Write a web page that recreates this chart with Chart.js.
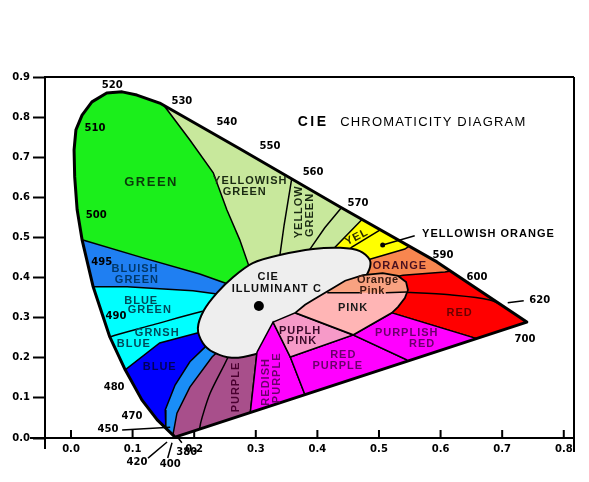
<!DOCTYPE html>
<html>
<head>
<meta charset="utf-8">
<script src="https://cdn.jsdelivr.net/npm/chart.js"></script>
<style>
  html, body { margin: 0; background: #fff; }
  canvas { display: block; }
</style>
</head>
<body>
<canvas id="cie" width="589" height="482"></canvas>
<script>
// axis ticks
const xTicks = [0, 0.1, 0.2, 0.3, 0.4, 0.5, 0.6, 0.7, 0.8];
const yTicks = [0, 0.1, 0.2, 0.3, 0.4, 0.5, 0.6, 0.7, 0.8, 0.9];

// spectral locus (380nm -> 520nm -> 700nm)
const locus = [
  [0.169, 0.002], [0.140, 0.045], [0.115, 0.095], [0.088, 0.170], [0.063, 0.252],
  [0.036, 0.377], [0.018, 0.494], [0.010, 0.569], [0.006, 0.651], [0.005, 0.718],
  [0.008, 0.768], [0.018, 0.805], [0.034, 0.838], [0.058, 0.860], [0.083, 0.863],
  [0.107, 0.855], [0.144, 0.835], [0.274, 0.721], [0.437, 0.576], [0.594, 0.439],
  [0.740, 0.289]
];

// colour regions (corners that fall outside the locus get clipped away)
const yellowishGreen = [[0.128, 0.993], [0.148, 0.835], [0.193, 0.743], [0.231, 0.661], [0.253, 0.569], [0.274, 0.494], [0.294, 0.406], [0.420, 0.344], [1.021, 0.344], [1.021, 0.993]];
const lineA = [[0.364, 0.718], [0.359, 0.653], [0.346, 0.531], [0.339, 0.454], [0.336, 0.406]];
const lineB = [[0.469, 0.631], [0.440, 0.576], [0.412, 0.524], [0.388, 0.471], [0.372, 0.431]];
const yellow = [[0.518, 0.618], [0.472, 0.544], [0.429, 0.476], [0.412, 0.431], [1.021, 0.431], [1.021, 0.618]];
const lineD = [[0.531, 0.549], [0.502, 0.519], [0.456, 0.476], [0.437, 0.449]];
const orange = [[0.599, 0.531], [0.542, 0.471], [0.481, 0.444], [0.445, 0.424], [0.445, 0.344], [1.021, 0.344], [1.021, 0.531]];
const red = [[1.021, 0.494], [0.648, 0.424], [0.607, 0.414], [0.539, 0.406], [0.502, 0.394], [0.485, 0.344], [0.521, 0.312], [0.656, 0.249], [1.021, 0.045]];
const redLine = [[0.534, 0.364], [0.615, 0.357], [0.680, 0.344], [0.716, 0.317], [0.745, 0.289]];
const bluishGreen = [[-0.018, 0.506], [0.018, 0.494], [0.117, 0.449], [0.209, 0.409], [0.258, 0.382], [0.282, 0.357], [0.274, -0.105], [-0.018, -0.105]];
const blueGreen = [[-0.018, 0.382], [0.036, 0.377], [0.091, 0.377], [0.144, 0.372], [0.198, 0.367], [0.237, 0.359], [0.266, 0.344], [0.274, -0.105], [-0.018, -0.105]];
const line490 = [[0.031, 0.232], [0.063, 0.252], [0.133, 0.282], [0.209, 0.314], [0.234, 0.319]];
const blue = [[0.234, 0.269], [0.205, 0.262], [0.144, 0.237], [0.088, 0.170], [0.047, 0.145], [-0.018, -0.105], [0.274, -0.105], [0.274, 0.269]];
const lightBlue = [[0.234, 0.244], [0.218, 0.227], [0.193, 0.190], [0.169, 0.132], [0.153, 0.070], [0.154, 0.025], [0.161, -0.017], [0.274, -0.080], [0.274, 0.244]];
const purple = [[0.250, 0.232], [0.229, 0.202], [0.193, 0.127], [0.172, 0.062], [0.166, 0.012], [0.169, -0.030], [0.299, -0.055], [0.291, 0.062], [0.302, 0.214], [0.291, 0.244]];
const purpleLine = [[0.261, 0.232], [0.255, 0.202], [0.226, 0.112], [0.213, 0.052], [0.209, 0.025], [0.206, -0.030]];
const whiteArea = [[0.388, 0.274], [0.437, 0.332], [0.469, 0.382], [0.484, 0.419], [0.485, 0.444], [0.469, 0.466], [0.437, 0.474], [0.393, 0.471], [0.339, 0.456], [0.295, 0.436], [0.263, 0.401], [0.237, 0.362], [0.216, 0.319], [0.206, 0.274], [0.214, 0.237], [0.231, 0.214], [0.261, 0.200], [0.299, 0.209], [0.339, 0.234]];
const redishPurple = [[0.302, 0.214], [0.328, 0.289], [0.356, 0.202], [0.380, 0.107], [0.388, 0.020], [0.282, 0.020], [0.291, 0.062]];
const redPurple = [[0.458, 0.257], [0.545, 0.195], [0.567, 0.045], [0.372, 0.045], [0.380, 0.107], [0.356, 0.202]];
const purplishRed = [[0.521, 0.312], [0.656, 0.249], [1.021, 0.045], [0.567, 0.045], [0.545, 0.195], [0.458, 0.257]];
const puplhPink = [[0.328, 0.289], [0.364, 0.312], [0.458, 0.257], [0.356, 0.202]];
const pink = [[0.364, 0.312], [0.380, 0.332], [0.396, 0.347], [0.420, 0.369], [0.445, 0.392], [0.474, 0.406], [0.506, 0.411], [0.531, 0.404], [0.544, 0.389], [0.547, 0.369], [0.542, 0.349], [0.531, 0.327], [0.521, 0.312], [0.458, 0.257]];
const orangePink = [[0.416, 0.362], [0.420, 0.369], [0.445, 0.392], [0.474, 0.406], [0.506, 0.411], [0.531, 0.404], [0.544, 0.389], [0.547, 0.369], [0.545, 0.362]];
const pinkSplitL = [[0.416, 0.362], [0.469, 0.362]];
const pinkSplitR = [[0.511, 0.362], [0.545, 0.364]];
const illuminantC = [[0.305, 0.329]];

// wavelength marks
const marks = [
  ['520', 0.067, 0.878], ['530', 0.180, 0.840], ['540', 0.253, 0.788], ['550', 0.323, 0.726],
  ['560', 0.393, 0.661], ['570', 0.466, 0.586], ['590', 0.604, 0.456], ['600', 0.659, 0.401],
  ['620', 0.761, 0.344], ['700', 0.737, 0.247], ['510', 0.039, 0.773], ['500', 0.041, 0.554],
  ['495', 0.050, 0.439], ['490', 0.073, 0.302], ['480', 0.070, 0.127], ['470', 0.099, 0.055],
  ['450', 0.060, 0.022], ['420', 0.107, -0.062], ['400', 0.161, -0.067], ['380', 0.188, -0.037]
];
const leaders = [
  [[0.709, 0.337], [0.735, 0.342]],
  [[0.083, 0.020], [0.161, 0.027]],
  [[0.125, -0.050], [0.156, -0.010]],
  [[0.157, -0.050], [0.164, -0.012]],
  [[0.175, -0.002], [0.180, -0.012]],
  [[0.506, 0.481], [0.558, 0.504]]
];

// region names: text, x, y, colour, rotation, style
const names = [
  ['GREEN', 0.130, 0.638, '#0b3a0b', 0, 'big'],
  ['YELLOWISH', 0.291, 0.641, '#1a2a12', 0, 'name'],
  ['GREEN', 0.282, 0.613, '#1a2a12', 0, 'name'],
  ['YELLOW', 0.370, 0.564, '#1a2a12', -90, 'name'],
  ['GREEN', 0.388, 0.556, '#1a2a12', -90, 'name'],
  ['YEL', 0.464, 0.501, '#2a2a00', -27, 'name'],
  ['ORANGE', 0.534, 0.429, '#4a1020', 0, 'name'],
  ['Orange', 0.498, 0.394, '#3a1a10', 0, 'mixed'],
  ['Pink', 0.489, 0.366, '#3a1a10', 0, 'mixed'],
  ['PINK', 0.458, 0.324, '#1a1a1a', 0, 'name'],
  ['RED', 0.631, 0.312, '#6a0000', 0, 'name'],
  ['PURPLISH', 0.545, 0.262, '#6a006a', 0, 'name'],
  ['RED', 0.570, 0.234, '#6a006a', 0, 'name'],
  ['PUPLH', 0.372, 0.267, '#3a0a2a', 0, 'name'],
  ['PINK', 0.375, 0.242, '#3a0a2a', 0, 'name'],
  ['RED', 0.442, 0.207, '#6a006a', 0, 'name'],
  ['PURPLE', 0.433, 0.180, '#6a006a', 0, 'name'],
  ['REDISH', 0.317, 0.140, '#6a006a', -90, 'name'],
  ['PURPLE', 0.334, 0.150, '#6a006a', -90, 'name'],
  ['PURPLE', 0.268, 0.127, '#4a0030', -90, 'name'],
  ['BLUE', 0.144, 0.177, '#00005a', 0, 'name'],
  ['GRNSH', 0.140, 0.262, '#004a5a', 0, 'name'],
  ['BLUE', 0.102, 0.234, '#004a5a', 0, 'name'],
  ['BLUE', 0.114, 0.342, '#004a5a', 0, 'name'],
  ['GREEN', 0.128, 0.319, '#004a5a', 0, 'name'],
  ['BLUISH', 0.104, 0.421, '#00386a', 0, 'name'],
  ['GREEN', 0.107, 0.394, '#00386a', 0, 'name'],
  ['CIE', 0.320, 0.401, '#111', 0, 'name'],
  ['ILLUMINANT C', 0.334, 0.372, '#111', 0, 'name']
];

const styles = {
  big: ['bold 13px "Liberation Sans", Arial, sans-serif', '1.5px'],
  name: ['bold 11px "Liberation Sans", Arial, sans-serif', '1px'],
  mixed: ['bold 11px "Liberation Sans", Arial, sans-serif', '0.5px'],
  mark: ['bold 10px "DejaVu Sans", sans-serif', '0px']
};

const toXY = arr => arr.map(([x, y]) => ({x, y}));

function area(points, color, extra) {
  return Object.assign({
    data: toXY(points.concat([points[0]])),
    showLine: true, fill: 'shape', tension: 0,
    backgroundColor: color, borderColor: '#000', borderWidth: 1.5,
    pointRadius: 0, pointHoverRadius: 0
  }, extra || {});
}

function edge(points, extra) {
  return Object.assign({
    data: toXY(points),
    showLine: true, fill: false, tension: 0,
    borderColor: '#000', borderWidth: 1.5,
    pointRadius: 0, pointHoverRadius: 0
  }, extra || {});
}

// bottom layer first
const layers = [
  area(locus, '#1bef1b', {borderWidth: 0}),
  area(yellowishGreen, '#c8e89c'),
  edge(lineA), edge(lineB),
  area(yellow, '#ffff00'),
  edge(lineD),
  area(orange, '#f8864f'),
  area(red, '#ff0000'),
  edge(redLine, {tension: 0.3}),
  area(bluishGreen, '#1f7ff2'),
  area(blueGreen, '#00ffff'),
  edge(line490, {tension: 0.3}),
  area(blue, '#0000ff'),
  area(lightBlue, '#1a8ef7'),
  area(purple, '#a84f8b'),
  edge(purpleLine, {tension: 0.3}),
  area(whiteArea, '#eeeeee', {tension: 0.3, borderWidth: 2}),
  area(redishPurple, '#ff00ff'),
  area(redPurple, '#ff00ff'),
  area(purplishRed, '#ff00ff'),
  area(puplhPink, '#f69ac8'),
  area(pink, '#ffb5b5', {borderWidth: 0}),
  area(orangePink, '#f9a281', {borderWidth: 0}),
  area(pink, 'rgba(0,0,0,0)', {fill: false, borderWidth: 1.8}),
  edge(pinkSplitL), edge(pinkSplitR),
  {data: toXY(illuminantC), showLine: false, pointRadius: 5, pointBackgroundColor: '#000', pointBorderWidth: 0, pointHoverRadius: 5}
];
layers.forEach((d, i) => { d.order = layers.length - i; });

function drawText(ctx, t, px, py, style, color, rot, align) {
  ctx.save();
  ctx.translate(px, py);
  if (rot) ctx.rotate(rot * Math.PI / 180);
  ctx.font = styles[style][0];
  ctx.letterSpacing = styles[style][1];
  ctx.fillStyle = color;
  ctx.textAlign = align || 'center';
  ctx.textBaseline = 'middle';
  ctx.fillText(t, 0, 0);
  ctx.restore();
}

const diagram = {
  id: 'diagram',
  beforeDatasetsDraw(chart) {
    const {ctx, scales: {x, y}} = chart;
    ctx.save();
    ctx.beginPath();
    locus.forEach(([a, b], i) => {
      const px = x.getPixelForValue(a), py = y.getPixelForValue(b);
      if (i) ctx.lineTo(px, py); else ctx.moveTo(px, py);
    });
    ctx.closePath();
    ctx.clip();
  },
  afterDatasetsDraw(chart) {
    const {ctx, chartArea: area, scales: {x, y}} = chart;
    ctx.restore();

    // locus outline
    ctx.save();
    ctx.beginPath();
    locus.forEach(([a, b], i) => {
      const px = x.getPixelForValue(a), py = y.getPixelForValue(b);
      if (i) ctx.lineTo(px, py); else ctx.moveTo(px, py);
    });
    ctx.closePath();
    ctx.lineWidth = 3;
    ctx.lineJoin = 'round';
    ctx.strokeStyle = '#000';
    ctx.stroke();

    // leader lines
    ctx.lineWidth = 1.5;
    ctx.beginPath();
    leaders.forEach(([p, q]) => {
      ctx.moveTo(x.getPixelForValue(p[0]), y.getPixelForValue(p[1]));
      ctx.lineTo(x.getPixelForValue(q[0]), y.getPixelForValue(q[1]));
    });
    ctx.stroke();
    ctx.beginPath();
    ctx.arc(x.getPixelForValue(0.506), y.getPixelForValue(0.481), 2.5, 0, Math.PI * 2);
    ctx.fillStyle = '#000';
    ctx.fill();

    // frame: top, right, axis stubs, inward x ticks
    ctx.lineWidth = 2;
    ctx.beginPath();
    ctx.moveTo(area.left, area.top); ctx.lineTo(area.right, area.top);
    ctx.moveTo(area.right, area.top); ctx.lineTo(area.right, area.bottom + 14);
    ctx.moveTo(area.left, area.bottom); ctx.lineTo(area.left, area.bottom + 11);
    ctx.moveTo(area.left - 15, area.bottom); ctx.lineTo(area.left, area.bottom);
    xTicks.forEach(v => {
      const px = x.getPixelForValue(v);
      ctx.moveTo(px, area.bottom); ctx.lineTo(px, area.bottom - 8);
    });
    ctx.stroke();
    ctx.restore();

    marks.forEach(([t, a, b]) => drawText(ctx, t, x.getPixelForValue(a), y.getPixelForValue(b), 'mark', '#000'));
    names.forEach(([t, a, b, c, r, s]) => drawText(ctx, t, x.getPixelForValue(a), y.getPixelForValue(b), s, c, r));

    drawText(ctx, 'YELLOWISH ORANGE', x.getPixelForValue(0.570), y.getPixelForValue(0.509), 'name', '#000', 0, 'left');

    // title
    ctx.save();
    ctx.fillStyle = '#000';
    ctx.textBaseline = 'middle';
    ctx.font = 'bold 14px "Liberation Sans", Arial, sans-serif';
    ctx.letterSpacing = '2.5px';
    ctx.fillText('CIE', x.getPixelForValue(0.368), y.getPixelForValue(0.788));
    ctx.font = '13px "Liberation Sans", Arial, sans-serif';
    ctx.letterSpacing = '1.2px';
    ctx.fillText('CHROMATICITY DIAGRAM', x.getPixelForValue(0.437), y.getPixelForValue(0.788));
    ctx.restore();
  }
};

const tickFont = {family: 'DejaVu Sans', weight: 'bold', size: 10};

new Chart(document.getElementById('cie'), {
  type: 'scatter',
  data: {datasets: layers},
  options: {
    responsive: false,
    animation: false,
    events: [],
    layout: {padding: {top: 77, right: 15, bottom: 24, left: 0}},
    plugins: {legend: {display: false}, tooltip: {enabled: false}},
    scales: {
      x: {
        type: 'linear', min: -0.0422, max: 0.8166,
        afterBuildTicks: s => { s.ticks = xTicks.map(v => ({value: v})); },
        afterFit: s => { s.height = 20; },
        grid: {display: false, drawTicks: false},
        border: {display: true, color: '#000', width: 2},
        ticks: {padding: 5, color: '#000', font: tickFont, maxRotation: 0, autoSkip: false, callback: v => v.toFixed(1)}
      },
      y: {
        type: 'linear', min: 0, max: 0.9,
        afterBuildTicks: s => { s.ticks = yTicks.map(v => ({value: v})); },
        afterFit: s => { s.width = 45; },
        grid: {drawOnChartArea: false, drawTicks: true, tickLength: 12, tickWidth: 2, tickColor: '#000', color: '#000'},
        border: {display: true, color: '#000', width: 2},
        ticks: {padding: 3, color: '#000', font: tickFont, autoSkip: false, callback: v => v.toFixed(1)}
      }
    }
  },
  plugins: [diagram]
});
</script>
</body>
</html>
